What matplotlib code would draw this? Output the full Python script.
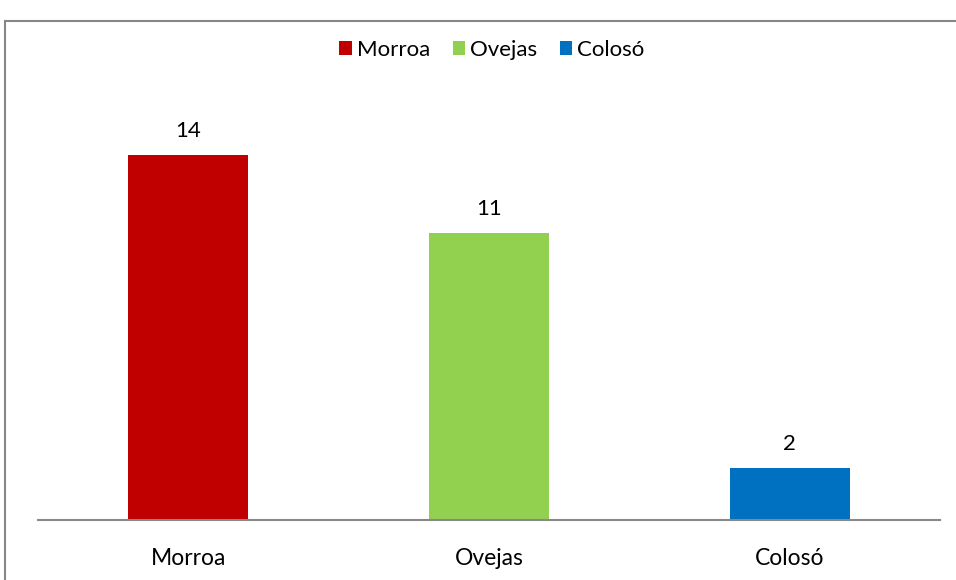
import matplotlib.pyplot as plt
from matplotlib.lines import Line2D
from matplotlib.patches import Patch

# Data
categories = ['Morroa', 'Ovejas', 'Colosó']
values = [14, 11, 2]
colors = ['#C00000', '#92D050', '#0070C0']

plt.rcParams['font.family'] = ['Lato', 'DejaVu Sans']

W, H = 956, 580
fig = plt.figure(figsize=(W / 100, H / 100), dpi=100)

# outer chart frame (only top and left edges are visible, rest is cut off)
top_y = 1 - 21 / H
left_x = 5 / W
fig.add_artist(Line2D([left_x, 1.05], [top_y, top_y], transform=fig.transFigure,
                      color='#878787', linewidth=1.5))
fig.add_artist(Line2D([left_x, left_x], [-0.05, top_y], transform=fig.transFigure,
                      color='#878787', linewidth=1.5))

ax = fig.add_axes([38 / W, 60 / H, 902 / W, 417 / H])
x = range(len(categories))
ax.bar(x, values, width=0.4, color=colors, zorder=2)

for xi, v in zip(x, values):
    ax.text(xi, v + 0.55, str(v), ha='center', va='bottom', fontsize=16, color='black')

ax.set_xlim(-0.5, 2.5)
ax.set_ylim(0, 16)
ax.set_xticks(list(x))
ax.set_xticklabels(categories, fontsize=16.5)
ax.tick_params(axis='x', length=0, pad=20)
ax.set_yticks([])
for side in ['top', 'right', 'left']:
    ax.spines[side].set_visible(False)
ax.spines['bottom'].set_color('#888888')
ax.spines['bottom'].set_linewidth(1.5)

handles = [Patch(facecolor=c, label=l) for c, l in zip(colors, categories)]
fig.legend(handles=handles, loc='center', bbox_to_anchor=(492 / W, 1 - 50 / H), ncol=3,
           frameon=False, fontsize=16, handlelength=0.55, handleheight=0.55,
           handletextpad=0.25, columnspacing=1.0)

fig.savefig('out.png', dpi=100)
